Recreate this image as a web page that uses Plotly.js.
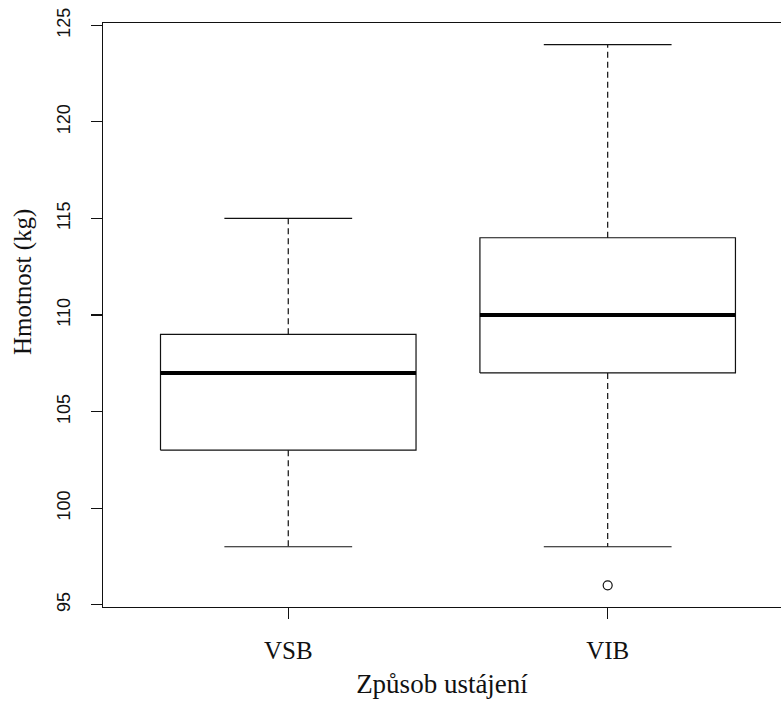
<!DOCTYPE html>
<html>
<head>
<meta charset="utf-8">
<script src="https://cdn.plot.ly/plotly-3.0.1.min.js"></script>
<style>
  html, body { margin: 0; padding: 0; background: #fff; overflow: hidden; }
  #chart { width: 781px; height: 704px; }
</style>
</head>
<body>
<div id="chart"></div>
<script>
// ---- Data ----
const groups = ['VSB', 'VIB'];
const lowerWhisker = [98, 98];
const q1 = [103, 107];
const median = [107, 110];
const q3 = [109, 114];
const upperWhisker = [115, 124];
const outliers = [[], [96]];

const xTitle = 'Způsob ustájení';
const yTitle = 'Hmotnost (kg)';
const yTicks = [95, 100, 105, 110, 115, 120, 125];

// ---- Styling constants ----
const boxHalf = 0.4;     // R boxwex 0.8
const capHalf = 0.2;     // staplewex 0.5
const ink = '#111';

const traces = [];
groups.forEach((g, i) => {
  const p = i + 1;
  // box
  traces.push({
    type: 'scatter', mode: 'lines',
    x: [p - boxHalf, p + boxHalf, p + boxHalf, p - boxHalf, p - boxHalf],
    y: [q1[i], q1[i], q3[i], q3[i], q1[i]],
    line: { color: ink, width: 1.2 },
    hoverinfo: 'skip'
  });
  // median
  traces.push({
    type: 'scatter', mode: 'lines',
    x: [p - boxHalf, p + boxHalf],
    y: [median[i], median[i]],
    line: { color: '#000', width: 4 },
    hoverinfo: 'skip'
  });
  // whiskers (dashed)
  traces.push({
    type: 'scatter', mode: 'lines',
    x: [p, p, null, p, p],
    y: [q3[i], upperWhisker[i], null, q1[i], lowerWhisker[i]],
    line: { color: ink, width: 1.2, dash: '6px,4px' },
    hoverinfo: 'skip'
  });
  // caps
  traces.push({
    type: 'scatter', mode: 'lines',
    x: [p - capHalf, p + capHalf, null, p - capHalf, p + capHalf],
    y: [upperWhisker[i], upperWhisker[i], null, lowerWhisker[i], lowerWhisker[i]],
    line: { color: ink, width: 1.2 },
    hoverinfo: 'skip'
  });
  // outliers
  if (outliers[i].length) {
    traces.push({
      type: 'scatter', mode: 'markers',
      x: outliers[i].map(() => p),
      y: outliers[i],
      marker: { symbol: 'circle-open', size: 9, color: ink, line: { width: 1.2, color: ink } },
      hoverinfo: 'skip'
    });
  }
});

const layout = {
  width: 781, height: 704,
  margin: { l: 103, r: 0, t: 23, b: 97, pad: 0 },
  paper_bgcolor: '#fff', plot_bgcolor: '#fff',
  showlegend: false,
  hovermode: false,
  xaxis: {
    range: [0.42, 2.5426],
    tickvals: groups.map((g, i) => i + 1),
    ticktext: groups,
    showgrid: false, zeroline: false,
    showline: true, mirror: true, linecolor: ink, linewidth: 1.2,
    ticks: 'outside', ticklen: 11, tickwidth: 1.2, tickcolor: ink,
    tickfont: { family: 'Liberation Serif, Times New Roman, serif', size: 25, color: ink },
    ticklabelstandoff: 10,
    title: { text: xTitle, font: { family: 'Liberation Serif, Times New Roman, serif', size: 27, color: ink }, standoff: 10 }
  },
  yaxis: {
    range: [94.88, 125.12],
    tickvals: yTicks,
    showgrid: false, zeroline: false,
    showline: true, mirror: false, linecolor: ink, linewidth: 1.2,
    ticks: 'outside', ticklen: 11, tickwidth: 1.2, tickcolor: ink,
    tickangle: -90,
    tickfont: { family: 'Liberation Sans, Arial, sans-serif', size: 18, color: ink },
    ticklabelstandoff: 14
  },
  annotations: [{
    text: yTitle,
    xref: 'paper', yref: 'paper',
    x: -0.118, y: 0.558,
    xanchor: 'center', yanchor: 'middle',
    textangle: -90, showarrow: false,
    font: { family: 'Liberation Serif, Times New Roman, serif', size: 25, color: ink }
  }]
};

Plotly.newPlot('chart', traces, layout, { displayModeBar: false, staticPlot: true });
</script>
</body>
</html>
